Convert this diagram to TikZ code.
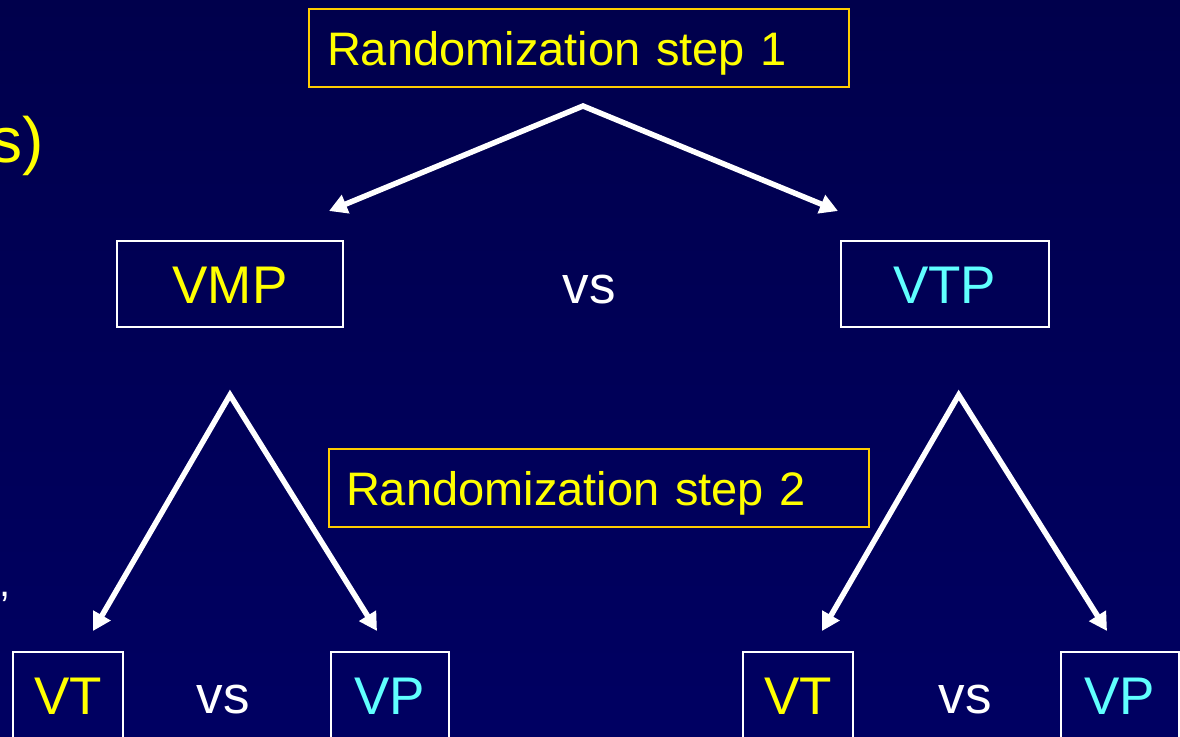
\documentclass[tikz,border=0pt]{standalone}
\usepackage{fontspec}
\setmainfont{Liberation Sans}
\usetikzlibrary{arrows.meta}
\definecolor{bgtop}{RGB}{0,0,76}
\definecolor{bgbot}{RGB}{0,0,98}
\definecolor{gold}{RGB}{255,204,0}
\definecolor{ylw}{RGB}{255,255,0}
\definecolor{cyn}{RGB}{96,255,255}
\begin{document}
\begin{tikzpicture}[x=1pt,y=-1pt,
  box/.style={draw=white, line width=2pt, inner sep=0pt, minimum height=86pt,
    text height=38pt, text depth=0pt, font=\fontsize{53}{60}\selectfont},
  stepbox/.style={draw=gold, line width=2pt, anchor=north west, minimum height=78pt,
    inner ysep=0pt, align=left, text=ylw, font=\fontsize{47}{56}\selectfont,
    text height=34.4pt, text depth=0pt},
  vslab/.style={text=white, inner sep=0pt, anchor=base, font=\fontsize{53}{60}\selectfont},
  arr/.style={draw=white, line width=5.5pt, line join=miter, <->,
    >={Triangle[length=18pt,width=19pt]}}]
\useasboundingbox (0,0) rectangle (1180,736);
\clip (0,0) rectangle (1180,736);
\shade[top color=bgtop, bottom color=bgbot] (0,0) rectangle (1180,736);

% cut-off text at the left edge
\node[text=ylw, inner sep=0pt, anchor=base east, font=\fontsize{64}{72}\selectfont] (frag1) at (44.5,162) {s)};
\node[text=white, inner sep=0pt, anchor=base west, font=\fontsize{40}{48}\selectfont] (frag2) at (-1,596) {,};

% randomization step labels
\node[stepbox, text width=504pt, inner xsep=18pt] (s1) at (308,8) {Randomization step 1};
\node[stepbox, text width=506pt, inner xsep=17pt] (s2) at (328,448) {Randomization step 2};

% first level
\node[box, minimum width=226pt, text=ylw] (vmp) at (230,284) {VMP};
\node[box, minimum width=208pt, text=cyn] (vtp) at (944.7,284) {VTP};
\node[vslab] (vs1) at (589,303) {vs};

% second level
\node[box, minimum width=110pt, text=ylw] (vt1) at (67.9,695) {VT};
\node[box, minimum width=118pt, text=cyn] (vp1) at (389.5,695) {VP};
\node[vslab] (vs2) at (223,713.5) {vs};
\node[box, minimum width=110pt, text=ylw] (vt2) at (798,695) {VT};
\node[box, minimum width=118pt, text=cyn] (vp2) at (1119.7,695) {VP};
\node[vslab] (vs3) at (965,713.5) {vs};

% arrow apexes and tips
\coordinate (a1) at (583,106);
\coordinate (t1l) at (329,211);
\coordinate (t1r) at (838,211);
\coordinate (a2) at (230,395);
\coordinate (t2l) at (93,631);
\coordinate (t2r) at (377,631);
\coordinate (a3) at (958.7,395);
\coordinate (t3l) at (822,631);
\coordinate (t3r) at (1107,631);

\draw[arr] (t1l) -- (a1) -- (t1r);
\draw[arr] (t2l) -- (a2) -- (t2r);
\draw[arr] (t3l) -- (a3) -- (t3r);
\end{tikzpicture}
\end{document}
